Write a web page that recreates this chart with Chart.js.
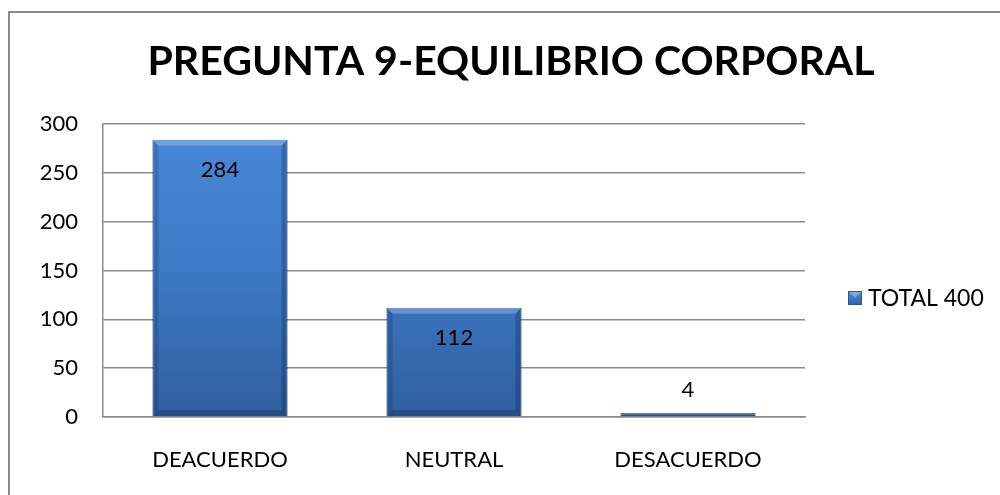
<!DOCTYPE html>
<html>
<head>
<meta charset="utf-8">
<script src="https://cdn.jsdelivr.net/npm/chart.js@4.4.1/dist/chart.umd.min.js"></script>
<style>
  html, body { margin: 0; padding: 0; background: #fff; overflow: hidden; }
  #wrap { position: relative; width: 1000px; height: 495px; }
  #frame {
    position: absolute; left: 8px; top: 11px; width: 1100px; height: 600px;
    border: 2px solid #8a8a8a; box-sizing: border-box;
  }
  canvas { position: absolute; left: 0; top: 0; }
</style>
</head>
<body>
<div id="wrap">
  <div id="frame"></div>
  <canvas id="chart" width="1000" height="495"></canvas>
</div>
<script>
const categories = ['DEACUERDO', 'NEUTRAL', 'DESACUERDO']
const totals = [284, 112, 4]
const seriesName = 'TOTAL 400'
const yTicks = [0, 50, 100, 150, 200, 250, 300]

const FONT = 'Lato, "Open Sans", sans-serif'

function barGradient(ctx, top, bottom) {
    const g = ctx.createLinearGradient(0, top, 0, bottom)
    g.addColorStop(0, '#4a89d9')
    g.addColorStop(0.5, '#3d79c4')
    g.addColorStop(1, '#2f5f9f')
    return g
}

function poly(ctx, pts, fill) {
    ctx.beginPath()
    ctx.moveTo(pts[0][0], pts[0][1])
    for (let i = 1; i < pts.length; i++) ctx.lineTo(pts[i][0], pts[i][1])
    ctx.closePath()
    ctx.fillStyle = fill
    ctx.fill()
}

// bevel edges, labels on the bars and the legend box on the right
const barExtras = {
    id: 'barExtras',
    afterDatasetsDraw(chart) {
        const ctx = chart.ctx
        const meta = chart.getDatasetMeta(0)
        ctx.save()
        meta.data.forEach((bar) => {
            const l = bar.x - bar.width / 2, r = bar.x + bar.width / 2
            const t = bar.y, b = bar.base
            const e = Math.min(6, (b - t) / 2)
            if (e < 1) return
            poly(ctx, [[l, t], [r, t], [r - e, t + e], [l + e, t + e]], 'rgba(255,255,255,0.22)')
            poly(ctx, [[l, t], [l + e, t + e], [l + e, b - e], [l, b]], 'rgba(0,20,60,0.18)')
            poly(ctx, [[r, t], [r - e, t + e], [r - e, b - e], [r, b]], 'rgba(0,20,60,0.25)')
            poly(ctx, [[l, b], [l + e, b - e], [r - e, b - e], [r, b]], 'rgba(0,20,60,0.22)')
        })

        ctx.font = '22px ' + FONT
        ctx.fillStyle = '#000'
        ctx.textAlign = 'center'
        ctx.textBaseline = 'middle'
        meta.data.forEach((bar, i) => {
            const h = bar.base - bar.y
            const y = h > 40 ? bar.y + 30 : bar.y - 23
            ctx.fillText(String(totals[i]), bar.x, y)
        })

        // legend
        const lx = 848, ly = 291
        ctx.fillStyle = barGradient(ctx, ly, ly + 14)
        ctx.fillRect(lx, ly, 14, 14)
        poly(ctx, [[lx, ly], [lx + 14, ly], [lx + 7, ly + 7]], 'rgba(255,255,255,0.3)')
        ctx.strokeStyle = '#2c5890'
        ctx.lineWidth = 1
        ctx.strokeRect(lx + 0.5, ly + 0.5, 13, 13)
        ctx.fillStyle = '#000'
        ctx.textAlign = 'left'
        ctx.font = '23px ' + FONT
        ctx.fillText(seriesName, lx + 20, ly + 8)
        ctx.restore()
    }
}

new Chart(document.getElementById('chart'), {
    type: 'bar',
    data: {
        labels: categories,
        datasets: [{
            label: seriesName,
            data: totals,
            backgroundColor: (c) => {
                const area = c.chart.chartArea
                if (!area) return '#3d79c4'
                return barGradient(c.chart.ctx, area.top, area.bottom)
            },
            borderColor: '#2c5890',
            borderWidth: 1,
            categoryPercentage: 1,
            barPercentage: 0.577,
        }]
    },
    options: {
        responsive: false,
        animation: false,
        layout: {
            padding: { left: 22, right: 0, top: 0, bottom: 23 }
        },
        plugins: {
            legend: { display: false },
            tooltip: { enabled: false },
            title: {
                display: true,
                text: 'PREGUNTA 9-EQUILIBRIO CORPORAL',
                color: '#000',
                font: { family: FONT, size: 41, weight: 'bold' },
                padding: { top: 37, bottom: 38 },
            },
        },
        scales: {
            x: {
                grid: { display: false, drawTicks: false },
                border: { display: true, color: '#8c8c8c', width: 1.5 },
                ticks: {
                    color: '#000',
                    font: { family: FONT, size: 22 },
                    padding: 30,
                    maxRotation: 0,
                },
                afterFit: (axis) => { axis.height = 55 },
            },
            y: {
                min: 0,
                max: 300,
                afterBuildTicks: (axis) => {
                    axis.ticks = yTicks.map(v => ({ value: v }))
                },
                afterFit: (axis) => { axis.width = 81 },
                grid: { color: '#8c8c8c', lineWidth: 1.5, drawTicks: false },
                border: { display: true, color: '#8c8c8c', width: 1.5 },
                ticks: {
                    color: '#000',
                    font: { family: FONT, size: 22 },
                    padding: 25,
                },
            },
            // empty right axis that keeps room for the legend
            side: {
                position: 'right',
                display: true,
                grid: { display: false, drawTicks: false },
                border: { display: false },
                ticks: { display: false },
                afterFit: (axis) => { axis.width = 195 },
            },
        },
    },
    plugins: [barExtras],
})
</script>
</body>
</html>
